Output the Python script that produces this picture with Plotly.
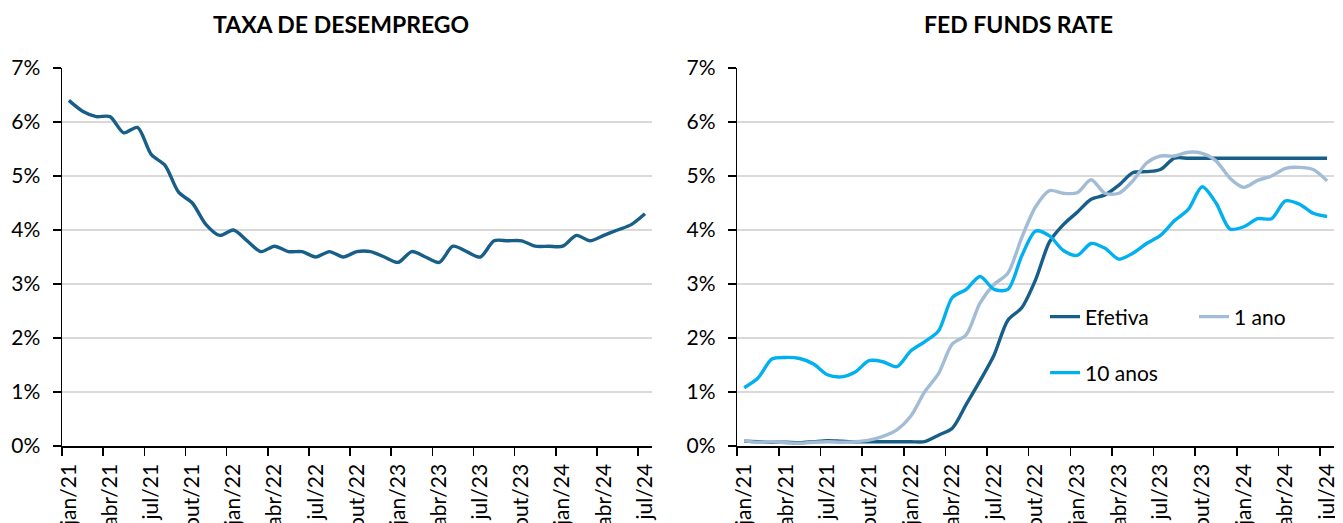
import plotly.graph_objects as go

# ---------------- data ----------------
months_pt = ["jan", "fev", "mar", "abr", "mai", "jun", "jul", "ago", "set", "out", "nov", "dez"]
years = ["21", "22", "23", "24"]
dates = [f"{m}/{y}" for y in years for m in months_pt][:43]  # jan/21 .. jul/24

unemployment = [6.4, 6.2, 6.1, 6.1, 5.8, 5.9, 5.4, 5.2, 4.7, 4.5, 4.1, 3.9,
                4.0, 3.8, 3.6, 3.7, 3.6, 3.6, 3.5, 3.6, 3.5, 3.6, 3.6, 3.5,
                3.4, 3.6, 3.5, 3.4, 3.7, 3.6, 3.5, 3.8, 3.8, 3.8, 3.7, 3.7,
                3.7, 3.9, 3.8, 3.9, 4.0, 4.1, 4.3]

efetiva = [0.09, 0.08, 0.07, 0.07, 0.06, 0.08, 0.10, 0.09, 0.08, 0.08, 0.08, 0.08,
           0.08, 0.08, 0.20, 0.33, 0.77, 1.21, 1.68, 2.33, 2.56, 3.08, 3.78, 4.10,
           4.33, 4.57, 4.65, 4.83, 5.06, 5.08, 5.12, 5.33, 5.33, 5.33, 5.33, 5.33,
           5.33, 5.33, 5.33, 5.33, 5.33, 5.33, 5.33]

um_ano = [0.10, 0.07, 0.08, 0.06, 0.05, 0.07, 0.08, 0.07, 0.08, 0.11, 0.18, 0.30,
          0.55, 1.00, 1.34, 1.89, 2.06, 2.65, 2.99, 3.20, 3.86, 4.43, 4.73, 4.68,
          4.69, 4.93, 4.68, 4.68, 4.91, 5.24, 5.37, 5.37, 5.44, 5.42, 5.28, 4.96,
          4.79, 4.92, 5.00, 5.14, 5.16, 5.12, 4.91]

dez_anos = [1.08, 1.26, 1.61, 1.64, 1.62, 1.52, 1.32, 1.28, 1.37, 1.58, 1.56, 1.47,
            1.76, 1.93, 2.13, 2.75, 2.90, 3.14, 2.90, 2.90, 3.52, 3.98, 3.89, 3.62,
            3.53, 3.75, 3.66, 3.46, 3.57, 3.75, 3.90, 4.17, 4.38, 4.80, 4.50, 4.02,
            4.06, 4.21, 4.21, 4.54, 4.48, 4.31, 4.25]

titles = ["TAXA DE DESEMPREGO", "FED FUNDS RATE"]
y_ticks = [0, 1, 2, 3, 4, 5, 6, 7]
y_tick_text = [f"{v}%" for v in y_ticks]

# ---------------- styles ----------------
FONT = "Lato, Carlito, Calibri, sans-serif"
C_DARK = "#175E88"
C_LIGHT = "#A3BCD6"
C_CYAN = "#00B0F0"
GRID = "#D9D9D9"
LW = 3.4

x = list(range(len(dates)))
label_vals = x[::3]
label_text = dates[::3]
boundary_vals = [v - 0.5 for v in label_vals]

fig = go.Figure()

fig.add_trace(go.Scatter(x=x, y=unemployment, mode="lines", name="Desemprego",
                         line=dict(color=C_DARK, width=LW, shape="spline", smoothing=0.8),
                         xaxis="x", yaxis="y", showlegend=False))

fig.add_trace(go.Scatter(x=x, y=efetiva, mode="lines", name="Efetiva",
                         line=dict(color=C_DARK, width=LW, shape="spline", smoothing=0.8),
                         xaxis="x2", yaxis="y2", legend="legend"))
fig.add_trace(go.Scatter(x=x, y=um_ano, mode="lines", name="1 ano",
                         line=dict(color=C_LIGHT, width=LW, shape="spline", smoothing=0.8),
                         xaxis="x2", yaxis="y2", legend="legend"))
fig.add_trace(go.Scatter(x=x, y=dez_anos, mode="lines", name="10 anos",
                         line=dict(color=C_CYAN, width=LW, shape="spline", smoothing=0.8),
                         xaxis="x2", yaxis="y2", legend="legend2"))

# page has an 8px body margin: figure placed at (8, 8)
OFF = 8
W, H = 1343 - OFF, 523 - OFF
PL, PT, PB = 62, 68, 446          # plot area in page pixels
ML, MR, MT = PL - OFF, 0, PT - OFF
MB = (H + OFF) - PB
pw = W - ML - MR
ph = H - MT - MB


def px_x(p):
    return (p - PL) / pw


def px_y(p):
    return (PB - p) / ph


xaxis_common = dict(
    range=[-0.5, len(x) - 0.5],
    tickmode="array", tickvals=label_vals, ticktext=label_text,
    tickangle=-90, ticks="", ticklabelstandoff=8,
    tickfont=dict(family=FONT, size=21, color="#000000"),
    showline=True, linecolor="#000000", linewidth=1.5,
    showgrid=False, zeroline=False, automargin=False,
    minor=dict(tickmode="array", tickvals=boundary_vals, ticks="outside",
               ticklen=8, tickwidth=1.5, tickcolor="#000000", showgrid=False),
    fixedrange=True,
)
yaxis_common = dict(
    range=[0, 7], tickmode="array", tickvals=y_ticks, ticktext=y_tick_text,
    ticks="outside", ticklen=8, tickwidth=1.5, tickcolor="#000000",
    tickfont=dict(family=FONT, size=21, color="#000000"),
    showline=True, linecolor="#000000", linewidth=1.5,
    showgrid=True, gridcolor=GRID, gridwidth=2, zeroline=False,
    automargin=False, ticklabelstandoff=8, fixedrange=True,
)

fig.update_layout(
    width=W, height=H, autosize=False,
    margin=dict(l=ML, r=MR, t=MT, b=MB, pad=0),
    paper_bgcolor="white", plot_bgcolor="white",
    font=dict(family=FONT, size=21, color="#000000"),
    xaxis=dict(domain=[0, px_x(656)], anchor="y", **xaxis_common),
    yaxis=dict(domain=[0, 1], anchor="x", **yaxis_common),
    xaxis2=dict(domain=[px_x(742), 1], anchor="y2", **xaxis_common),
    yaxis2=dict(domain=[0, 1], anchor="x2", **yaxis_common),
    legend=dict(orientation="h", x=px_x(1052), y=px_y(317), xanchor="left", yanchor="middle",
                bgcolor="rgba(0,0,0,0)", font=dict(family=FONT, size=21, color="#000000"),
                entrywidth=104, entrywidthmode="pixels", itemclick=False, itemdoubleclick=False),
    legend2=dict(orientation="h", x=px_x(1052), y=px_y(373), xanchor="left", yanchor="middle",
                 bgcolor="rgba(0,0,0,0)", font=dict(family=FONT, size=21, color="#000000"),
                 itemclick=False, itemdoubleclick=False),
    annotations=[
        dict(text=f"<b>{titles[0]}</b>", x=px_x(343), y=px_y(24), xref="paper", yref="paper",
             xanchor="center", yanchor="middle", showarrow=False,
             font=dict(family=FONT, size=23, color="#000000")),
        dict(text=f"<b>{titles[1]}</b>", x=px_x(1025), y=px_y(24), xref="paper", yref="paper",
             xanchor="center", yanchor="middle", showarrow=False,
             font=dict(family=FONT, size=23, color="#000000")),
    ],
)

fig.write_html("out.html", config={"displayModeBar": False, "staticPlot": True})
